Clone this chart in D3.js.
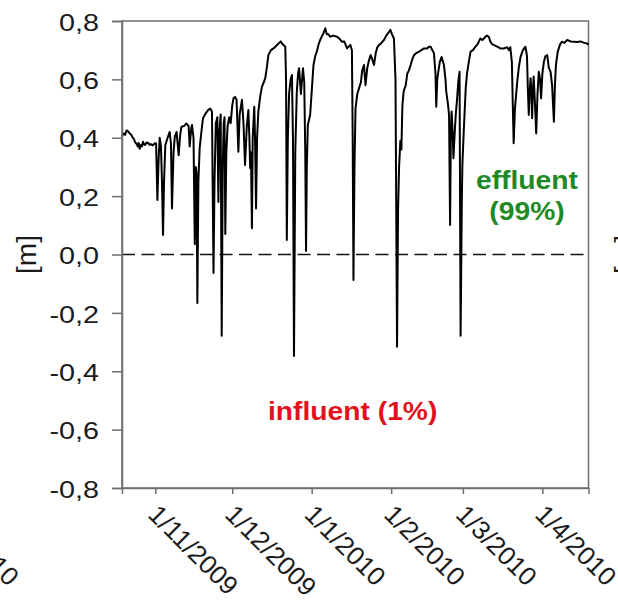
<!DOCTYPE html>
<html>
<head>
<meta charset="utf-8">
<script src="https://cdn.jsdelivr.net/npm/d3@7"></script>
<style>
  body { margin: 0; background: #fff; }
  svg { display: block; }
  text { font-family: Arial, 'Liberation Sans', sans-serif; }
</style>
</head>
<body>
<svg width="618" height="605"></svg>
<script>
var svg = d3.select('svg')

var start = new Date(2009, 9, 19)
var end = new Date(2010, 3, 19)

// [days after 19/10/2009, head difference in m]
var series = [
  [0, 0.404], [0.6, 0.415], [1.2, 0.41], [1.8, 0.425], [2.3, 0.423], [3.0, 0.415], [3.6, 0.41], [4.2, 0.40],
  [4.7, 0.395], [5.1, 0.385], [5.6, 0.38], [6.2, 0.37], [6.5, 0.382], [6.9, 0.362], [7.4, 0.375],
  [7.8, 0.37], [8.2, 0.386], [8.6, 0.378], [9.0, 0.375], [9.6, 0.384], [10.2, 0.382], [10.8, 0.376],
  [11.3, 0.378], [12.0, 0.374], [12.8, 0.381], [13.3, 0.38],
  [13.8, 0.187], [14.3, 0.33], [14.7, 0.40], [15.2, 0.37], [15.6, 0.25], [16.0, 0.067], [16.4, 0.25],
  [16.9, 0.375], [17.8, 0.40], [18.6, 0.42], [19.1, 0.38], [19.5, 0.158], [20.1, 0.35], [20.6, 0.404],
  [21.3, 0.42], [22.1, 0.34], [22.7, 0.41], [23.2, 0.438], [24.2, 0.44], [25.1, 0.449], [26.0, 0.44],
  [26.4, 0.37], [27.0, 0.43], [27.3, 0.444], [27.9, 0.40], [28.4, 0.035], [28.8, 0.30], [29.1, 0.28],
  [29.4, -0.166], [29.8, 0.25], [30.3, 0.365],
  [31.1, 0.43], [31.6, 0.467], [32.4, 0.48], [33.6, 0.495], [34.4, 0.50], [35.1, 0.49], [35.7, -0.063],
  [36.1, 0.25], [36.6, 0.45], [37.2, 0.47], [37.6, 0.18], [38.0, 0.42], [38.5, 0.48], [38.9, -0.278],
  [39.3, 0.30], [39.7, 0.45], [40.0, 0.47], [40.3, 0.07], [40.7, 0.35], [41.2, 0.44], [41.8, 0.47],
  [42.4, 0.45], [43.0, 0.51], [43.5, 0.535], [44.1, 0.54], [44.7, 0.53], [45.4, 0.352], [45.9, 0.48],
  [46.8, 0.53], [47.4, 0.45], [48.0, 0.307], [48.7, 0.44], [49.3, 0.495], [49.7, 0.40], [50.0, 0.296],
  [50.3, 0.35], [50.7, 0.09], [51.0, 0.40], [51.6, 0.506], [51.9, 0.40], [52.3, 0.158], [52.7, 0.40],
  [53.2, 0.49],
  [53.9, 0.54], [54.6, 0.575], [55.3, 0.59], [55.9, 0.604], [56.5, 0.64], [57.1, 0.683], [58.1, 0.70],
  [59.1, 0.706], [60.4, 0.717], [61.3, 0.725], [61.9, 0.73], [62.7, 0.72], [63.7, 0.712], [64.0, 0.60],
  [64.3, 0.05], [64.7, 0.40], [65.2, 0.552], [65.8, 0.60], [66.3, 0.615], [66.7, 0.40], [67.1, -0.348],
  [67.6, 0.35], [68.2, 0.558], [68.7, 0.62], [69.1, 0.638], [69.8, 0.55], [70.6, 0.638], [71.1, 0.59],
  [71.5, 0.35], [71.8, 0.012], [72.1, 0.30], [72.5, 0.444], [73.4, 0.478], [74.1, 0.57], [74.7, 0.649],
  [75.4, 0.68], [76.0, 0.695], [76.7, 0.72], [77.3, 0.735], [78.1, 0.75], [78.7, 0.76], [79.3, 0.775],
  [79.9, 0.755], [80.5, 0.755], [81.2, 0.746], [82.4, 0.75], [83.9, 0.746], [84.8, 0.74], [85.8, 0.729],
  [86.7, 0.73], [87.8, 0.706], [88.4, 0.712], [89.1, 0.718], [89.7, 0.70],
  [90.0, 0.40], [90.3, -0.087], [90.7, 0.30], [91.1, 0.50], [91.8, 0.55], [92.5, 0.57], [93.2, 0.59],
  [93.7, 0.63], [94.4, 0.649], [95.0, 0.58], [95.7, 0.64], [96.2, 0.66], [97.0, 0.683], [97.6, 0.67],
  [98.3, 0.649], [99.0, 0.69], [99.6, 0.71], [100.3, 0.718], [101.2, 0.725], [102.2, 0.735], [103.1, 0.75],
  [104.2, 0.763], [104.7, 0.77], [105.3, 0.755], [106.1, 0.74], [106.7, 0.60], [107.3, -0.316],
  [107.7, 0.15], [108.1, 0.30], [108.6, 0.39], [109.0, 0.36], [109.4, 0.512], [109.9, 0.56], [110.7, 0.58],
  [111.3, 0.62], [111.9, 0.63], [112.6, 0.649], [113.3, 0.67], [113.9, 0.683], [114.8, 0.69], [115.9, 0.695],
  [116.8, 0.70], [117.8, 0.706], [119.0, 0.706], [119.7, 0.712], [120.4, 0.712], [121.1, 0.70], [121.7, 0.69],
  [122.3, 0.62], [122.6, 0.506], [123.0, 0.60], [123.4, 0.626], [124.0, 0.66], [124.7, 0.677], [125.6, 0.649],
  [126.2, 0.60], [126.5, 0.558], [127.1, 0.52], [127.6, 0.478], [128.0, 0.101], [128.3, 0.42], [128.6, 0.49],
  [129.0, 0.42], [129.3, 0.33], [129.7, 0.40], [130.2, 0.478], [130.7, 0.53], [131.2, 0.592], [131.7, 0.626],
  [132.1, -0.278], [132.6, 0.20], [132.8, 0.307], [133.3, 0.416], [134.1, 0.57], [134.6, 0.62], [135.3, 0.66],
  [136.0, 0.695], [136.9, 0.70], [137.9, 0.712], [138.7, 0.72], [139.8, 0.74], [140.6, 0.735], [141.8, 0.746],
  [142.4, 0.75], [143.1, 0.746], [143.7, 0.73], [144.4, 0.72], [145.0, 0.718], [146.4, 0.712], [147.6, 0.706],
  [148.9, 0.706], [150.3, 0.71], [151.0, 0.70], [151.5, 0.71], [152.1, 0.66], [152.5, 0.50], [152.8, 0.381],
  [153.3, 0.50], [154.2, 0.592], [154.8, 0.64], [155.5, 0.677], [156.4, 0.70], [157.4, 0.712], [158.0, 0.68],
  [158.3, 0.58], [158.7, 0.478], [159.0, 0.55], [159.4, 0.604], [159.7, 0.56], [160.0, 0.467], [160.3, 0.56],
  [160.6, 0.61], [161.1, 0.52], [161.6, 0.415], [162.1, 0.55], [162.6, 0.626], [163.1, 0.60], [163.5, 0.535],
  [164.0, 0.62], [164.6, 0.66], [165.2, 0.68], [165.9, 0.683], [166.5, 0.64], [167.2, 0.626], [167.8, 0.58],
  [168.5, 0.455], [168.9, 0.58], [169.3, 0.65], [170.0, 0.695], [170.9, 0.72], [171.7, 0.729], [172.6, 0.725],
  [173.7, 0.735], [175.0, 0.73], [176.3, 0.729], [177.5, 0.728], [178.9, 0.73], [180.3, 0.725], [181.5, 0.723],
  [182.0, 0.718]
]

var xTicks = [
  new Date(2009, 10, 1), new Date(2009, 11, 1), new Date(2010, 0, 1),
  new Date(2010, 1, 1), new Date(2010, 2, 1), new Date(2010, 3, 1)
]
var yTicks = [-0.8, -0.6, -0.4, -0.2, 0, 0.2, 0.4, 0.6, 0.8]
var yTitle = '[m]'
var effluentLines = ['effluent', '(99%)']
var influentLabel = 'influent (1%)'

var x = d3.scaleTime()
  .domain([start, end])
  .range([122, 588.5])

var y = d3.scaleLinear()
  .domain([-0.8, 0.8])
  .range([488, 21])

var comma = d3.formatLocale({ decimal: ',', thousands: '.', grouping: [3], currency: ['', ''], minus: '-' })
var fmtY = comma.format('.1f')
var fmtX = d3.timeFormat('%-d/%-m/%Y')

var when = (d) => d3.timeMinute.offset(start, Math.round(d[0] * 1440))

// frame
svg.append('rect')
  .attr('x', x.range()[0])
  .attr('y', y.range()[1])
  .attr('width', x.range()[1] - x.range()[0])
  .attr('height', y.range()[0] - y.range()[1])
  .style('fill', 'none')
  .style('stroke', '#6e6e6e')
  .style('stroke-width', 1.5)

// zero line
svg.append('line')
  .attr('x1', x.range()[0])
  .attr('x2', x.range()[1])
  .attr('y1', y(0))
  .attr('y2', y(0))
  .style('stroke', '#111')
  .style('stroke-width', 1.5)
  .style('stroke-dasharray', '13,6.5')

var line = d3.line()
  .x((d) => x(when(d)))
  .y((d) => y(d[1]))

svg.append('path')
  .datum(series)
  .attr('d', line)
  .style('fill', 'none')
  .style('stroke', '#000')
  .style('stroke-width', 2)
  .style('stroke-linejoin', 'round')

// y axis
var yAxisGr = svg.append('g')
  .attr('transform', 'translate(' + x.range()[0] + ',0)')
  .call(d3.axisLeft(y).tickValues(yTicks).tickSize(10).tickFormat(fmtY))

yAxisGr.select('.domain').style('stroke', '#6e6e6e').style('stroke-width', 1.5)
yAxisGr.selectAll('.tick line').style('stroke', '#6e6e6e').style('stroke-width', 1.5)
yAxisGr.selectAll('.tick text')
  .attr('x', 0)
  .attr('dy', '0.4em')
  .attr('transform', 'translate(-23,0) scale(1.25,1)')
  .style('font-size', '23px')
  .style('fill', '#1a1a1a')

// x axis
var xAxisGr = svg.append('g')
  .attr('transform', 'translate(0,' + y.range()[0] + ')')
  .call(d3.axisBottom(x).tickValues(xTicks).tickSize(6).tickFormat(fmtX))

xAxisGr.select('.domain').style('stroke', '#6e6e6e').style('stroke-width', 1.5)
xAxisGr.selectAll('.tick line').style('stroke', '#6e6e6e').style('stroke-width', 1.5)
xAxisGr.selectAll('.tick text')
  .attr('y', 0)
  .attr('dy', 0)
  .attr('text-anchor', 'start')
  .attr('transform', 'translate(-9,28) rotate(45)')
  .style('font-size', '26px')
  .style('fill', '#1a1a1a')

// axis title
svg.append('text')
  .attr('transform', 'translate(36,' + y(0) + ') rotate(-90)')
  .attr('text-anchor', 'middle')
  .style('font-size', '28px')
  .style('fill', '#1a1a1a')
  .text(yTitle)

// pieces of the neighbouring panels
svg.append('text')
  .attr('transform', 'translate(' + (x(xTicks[5]) - 597 - 9) + ',' + (y.range()[0] + 28) + ') rotate(45)')
  .style('font-size', '26px')
  .style('fill', '#1a1a1a')
  .text(fmtX(xTicks[5]))

svg.append('text')
  .attr('transform', 'translate(' + (36 + 598) + ',' + y(0) + ') rotate(-90)')
  .attr('text-anchor', 'middle')
  .style('font-size', '28px')
  .style('fill', '#1a1a1a')
  .text(yTitle)

// annotations
var effDate = d3.timeDay.offset(start, 158.4)
svg.selectAll('.eff')
  .data(effluentLines)
  .enter()
  .append('text')
  .attr('class', 'eff')
  .attr('transform', (d, i) => 'translate(' + x(effDate) + ',' + y(i === 0 ? 0.224 : 0.118) + ') scale(1.13,1)')
  .attr('text-anchor', 'middle')
  .style('font-size', '25px')
  .style('font-weight', 'bold')
  .style('fill', '#1f8a25')
  .text((d) => d)

svg.append('text')
  .attr('transform', 'translate(' + x(d3.timeDay.offset(start, 90)) + ',' + y(-0.566) + ') scale(1.13,1)')
  .attr('text-anchor', 'middle')
  .style('font-size', '25px')
  .style('font-weight', 'bold')
  .style('fill', '#e2121c')
  .text(influentLabel)
</script>
</body>
</html>
